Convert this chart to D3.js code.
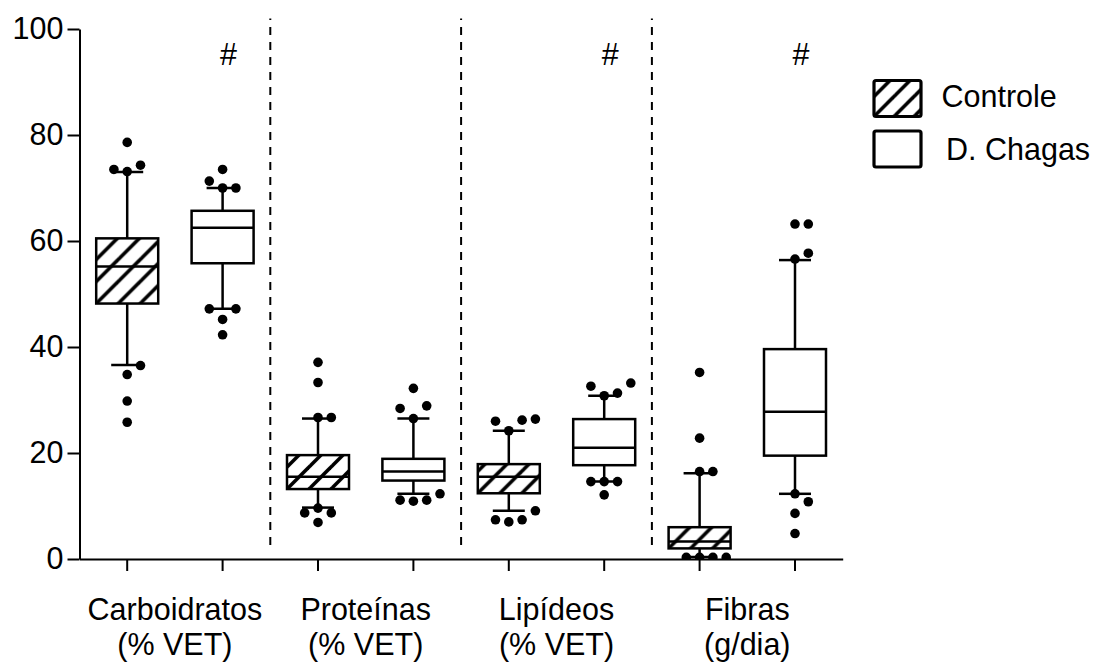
<!DOCTYPE html>
<html>
<head>
<meta charset="utf-8">
<script src="https://cdn.jsdelivr.net/npm/d3@7"></script>
<style>
  body { margin: 0; background: #fff; }
  svg { display: block; }
  text { font-family: "Liberation Sans", Arial, Helvetica, sans-serif; fill: #000; }
</style>
</head>
<body>
<svg id="chart" width="1102" height="668"></svg>
<script>
// ---- data -------------------------------------------------------------
const categoryLines = [
  ["Carboidratos", "(% VET)"],
  ["Proteínas", "(% VET)"],
  ["Lipídeos", "(% VET)"],
  ["Fibras", "(g/dia)"]
];
const groups = ["Controle", "D. Chagas"];
const yTicks = [0, 20, 40, 60, 80, 100];

// box summaries per category (5th pct, Q1, median, Q3, 95th pct)
const controleLow    = [36.6,  9.7,  9.1,  0.4];
const controleQ1     = [48.2, 13.2, 12.4,  2.0];
const controleMedian = [55.2, 15.5, 15.5,  3.3];
const controleQ3     = [60.5, 19.6, 17.9,  6.0];
const controleHigh   = [73.0, 26.5, 24.2, 16.2];

const chagasLow    = [47.2, 12.3, 14.6, 12.3];
const chagasQ1     = [55.8, 14.8, 17.7, 19.5];
const chagasMedian = [62.5, 16.5, 21.0, 27.8];
const chagasQ3     = [65.7, 18.9, 26.4, 39.6];
const chagasHigh   = [70.0, 26.5, 30.8, 56.4];

// individual values outside the whiskers
const controleOutliers = [
  [73.1, 74.3, 73.5, 78.6, 34.8, 36.5, 29.8, 25.8],
  [26.7, 26.7, 33.3, 37.1, 9.6, 8.7, 8.7, 6.9],
  [24.2, 26.2, 26.0, 26.4, 7.0, 7.4, 7.4, 9.1],
  [16.5, 16.5, 22.8, 35.2, 0.3, 0.3, 0.3, 0.3]
];
const chagasOutliers = [
  [70.0, 70.0, 71.3, 73.5, 45.2, 47.2, 47.2, 42.3],
  [26.5, 28.9, 28.4, 32.2, 10.9, 11.1, 11.1, 12.3],
  [30.8, 31.3, 32.6, 33.2, 14.6, 14.6, 14.6, 12.1],
  [56.6, 57.7, 63.2, 63.2, 12.3, 10.8, 8.6, 4.8]
];

// significance marks above the D. Chagas boxes
const chagasMarks = ["#", "", "#", "#"];
const markLevel = 93.2;

// ---- layout ------------------------------------------------------------
const svg = d3.select("#chart");
const FONT = 30.5;
const plotLeft = 79.5, plotRight = 842.7, plotBottom = 559, plotTop = 29;

const y = d3.scaleLinear().domain([0, 100]).range([plotBottom, plotTop]);
const xCat = d3.scaleBand().domain(d3.range(categoryLines.length)).range([plotLeft, plotRight]).padding(0);
const xGroup = d3.scaleBand().domain(groups).range([0, xCat.bandwidth()]).padding(0);
const slotKeys = [];
categoryLines.forEach((c, i) => groups.forEach(g => slotKeys.push(i + "|" + g)));
const xSlot = d3.scaleBand().domain(slotKeys).range([plotLeft, plotRight]).padding(0);
const cx = (i, g) => xCat(i) + xGroup(g) + xGroup.bandwidth() / 2;

const BOX_W = 62, CAP_W = 32, DOT_R = 4.8, LINE_W = 2.5;

const defs = svg.append("defs");
// diagonal hatch anchored at the lower-left corner of a rect
function hatch(id, x0, yBase, step, width) {
  const p = defs.append("pattern")
    .attr("id", id)
    .attr("patternUnits", "userSpaceOnUse")
    .attr("x", x0).attr("y", yBase - step)
    .attr("width", step).attr("height", step);
  const segs = [[0, step, step, 0], [-step / 2, step / 2, step / 2, -step / 2], [step / 2, step * 1.5, step * 1.5, step / 2]];
  segs.forEach(s => p.append("line")
    .attr("x1", s[0]).attr("y1", s[1]).attr("x2", s[2]).attr("y2", s[3])
    .attr("stroke", "#000").attr("stroke-width", width).attr("stroke-linecap", "square"));
  return "url(#" + id + ")";
}

defs.append("clipPath").attr("id", "plotClip")
  .append("rect").attr("x", plotLeft).attr("y", 0).attr("width", plotRight - plotLeft + 20).attr("height", plotBottom);

// ---- separators --------------------------------------------------------
const sepG = svg.append("g");
for (let i = 1; i < categoryLines.length; i++) {
  sepG.append("line")
    .attr("x1", xCat(i)).attr("x2", xCat(i))
    .attr("y1", y(102)).attr("y2", y(1.3))
    .attr("stroke", "#000").attr("stroke-width", 2)
    .attr("stroke-dasharray", "8,7").attr("stroke-dashoffset", 6.4);
}

// ---- boxes -------------------------------------------------------------
const series = [
  { name: "Controle", low: controleLow, q1: controleQ1, med: controleMedian, q3: controleQ3, high: controleHigh, out: controleOutliers, hatched: true },
  { name: "D. Chagas", low: chagasLow, q1: chagasQ1, med: chagasMedian, q3: chagasQ3, high: chagasHigh, out: chagasOutliers, hatched: false }
];

const boxG = svg.append("g");
const dotG = svg.append("g").attr("clip-path", "url(#plotClip)");

series.forEach((s, si) => {
  categoryLines.forEach((c, i) => {
    const x = cx(i, s.name);
    const g = boxG.append("g");
    const line = (x1, y1, x2, y2) => g.append("line")
      .attr("x1", x1).attr("y1", y1).attr("x2", x2).attr("y2", y2)
      .attr("stroke", "#000").attr("stroke-width", LINE_W);
    // whiskers + caps
    line(x, y(s.q3[i]), x, y(s.high[i]));
    line(x - CAP_W / 2, y(s.high[i]), x + CAP_W / 2, y(s.high[i]));
    line(x, y(s.q1[i]), x, y(s.low[i]));
    line(x - CAP_W / 2, y(s.low[i]), x + CAP_W / 2, y(s.low[i]));
    // box
    const bx = x - BOX_W / 2, by = y(s.q3[i]), bh = y(s.q1[i]) - y(s.q3[i]);
    g.append("rect").attr("x", bx).attr("y", by).attr("width", BOX_W).attr("height", bh).attr("fill", "#fff");
    if (s.hatched) {
      g.append("rect").attr("x", bx).attr("y", by).attr("width", BOX_W).attr("height", bh)
        .attr("fill", hatch("hatch-" + si + "-" + i, bx, by + bh, 22, 3.6));
    }
    g.append("rect").attr("x", bx).attr("y", by).attr("width", BOX_W).attr("height", bh)
      .attr("fill", "none").attr("stroke", "#000").attr("stroke-width", LINE_W);
    line(bx, y(s.med[i]), bx + BOX_W, y(s.med[i]));

    // points beyond the whiskers: simple column swarm
    const colStep = 13.3, clash = 13;
    const order = [0, 1, -1, 2, -2, 3, -3];
    const placed = [];
    s.out[i].forEach(v => {
      const py = y(v);
      let col = 0;
      for (const k of order) {
        if (!placed.some(p => p.col === k && Math.abs(p.py - py) < clash)) { col = k; break; }
      }
      placed.push({ col, py });
      dotG.append("circle").attr("cx", x + col * colStep).attr("cy", py).attr("r", DOT_R).attr("fill", "#000");
    });

    if (s.name === "D. Chagas" && chagasMarks[i]) {
      boxG.append("text").attr("x", x + 6).attr("y", y(markLevel))
        .attr("text-anchor", "middle").attr("font-size", FONT).text(chagasMarks[i]);
    }
  });
});

// ---- axes --------------------------------------------------------------
const yAxis = svg.append("g").attr("transform", `translate(${plotLeft},0)`)
  .call(d3.axisLeft(y).tickValues(yTicks).tickSize(12).tickPadding(4).tickSizeOuter(0));
yAxis.attr("font-family", null).attr("font-size", null);
yAxis.select(".domain").attr("stroke-width", 2);
yAxis.selectAll(".tick line").attr("stroke-width", 2);
yAxis.selectAll(".tick text").attr("font-size", FONT).style("fill", "#000");

const xAxis = svg.append("g").attr("transform", `translate(0,${plotBottom})`)
  .call(d3.axisBottom(xSlot).tickSize(12).tickSizeOuter(0).tickFormat(""));
xAxis.select(".domain").attr("stroke-width", 2);
xAxis.selectAll(".tick line").attr("stroke-width", 2);

const catLabels = svg.append("g");
categoryLines.forEach((lines, i) => {
  const t = catLabels.append("text").attr("text-anchor", "middle").attr("font-size", FONT);
  lines.forEach((ln, k) => {
    t.append("tspan").attr("x", xCat(i) + xCat.bandwidth() / 2).attr("y", 620 + k * 35).text(ln);
  });
});

// ---- legend ------------------------------------------------------------
const legend = svg.append("g");
const legendRows = [
  { name: groups[0], hatched: true, ry: 80.5, tx: 941.5, ty: 106.7 },
  { name: groups[1], hatched: false, ry: 131, tx: 946, ty: 159.5 }
];
legendRows.forEach((r, k) => {
  const lx = 874, lw = 47, lh = 36;
  legend.append("rect").attr("x", lx).attr("y", r.ry).attr("width", lw).attr("height", lh)
    .attr("rx", 2)
    .attr("fill", r.hatched ? hatch("hatch-legend-" + k, lx, r.ry + lh, 20, 3.6) : "#fff")
    .attr("stroke", "#000").attr("stroke-width", 3.2);
  legend.append("text").attr("x", r.tx).attr("y", r.ty).attr("font-size", FONT).text(r.name);
});
</script>
</body>
</html>
